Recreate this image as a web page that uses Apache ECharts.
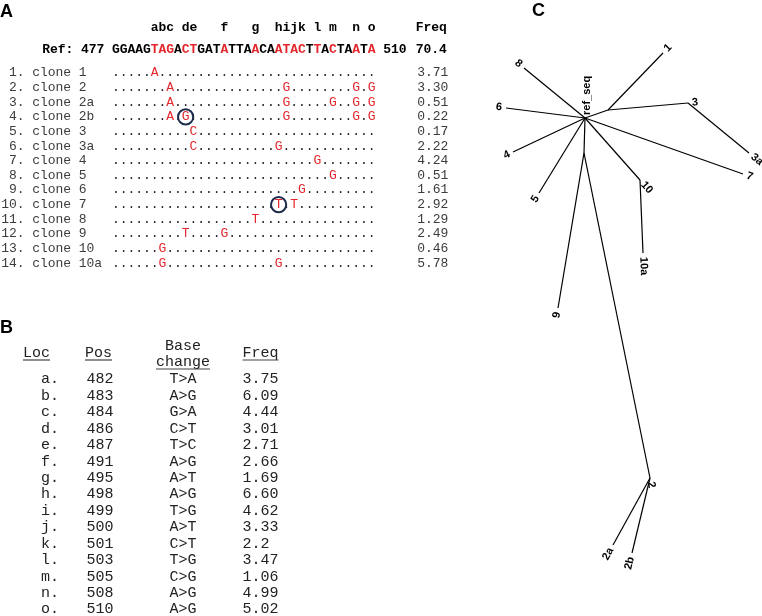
<!DOCTYPE html>
<html>
<head>
<meta charset="utf-8">
<script src="https://cdn.jsdelivr.net/npm/echarts@6/dist/echarts.min.js"></script>
<style>
  html, body { margin: 0; padding: 0; background: #fff; }
  #chart { width: 762px; height: 616px; }
</style>
</head>
<body>
<div id="chart"></div>
<script>
// panel A: reference sequence and clones
var refStart = 477
var refSeq = 'GGAAGTAGACTGATATTAACAATACTTACTAATA'
var refFreq = '70.4'
var cloneNames = ['clone 1', 'clone 2', 'clone 2a', 'clone 2b', 'clone 3', 'clone 3a', 'clone 4',
  'clone 5', 'clone 6', 'clone 7', 'clone 8', 'clone 9', 'clone 10', 'clone 10a']
var cloneFreq = ['3.71', '3.30', '0.51', '0.22', '0.17', '2.22', '4.24', '0.51', '1.61', '2.92',
  '1.29', '2.49', '0.46', '5.78']
// [position, base] per clone
var cloneMuts = [
  [[482, 'A']],
  [[484, 'A'], [499, 'G'], [508, 'G'], [510, 'G']],
  [[484, 'A'], [499, 'G'], [505, 'G'], [508, 'G'], [510, 'G']],
  [[484, 'A'], [486, 'G'], [499, 'G'], [508, 'G'], [510, 'G']],
  [[487, 'C']],
  [[487, 'C'], [498, 'G']],
  [[503, 'G']],
  [[505, 'G']],
  [[501, 'G']],
  [[498, 'T'], [500, 'T']],
  [[495, 'T']],
  [[486, 'T'], [491, 'G']],
  [[483, 'G']],
  [[483, 'G'], [498, 'G']]
]
var circled = [['clone 2b', 486], ['clone 7', 498]]

// panel B: variant table
var locNames = ['a', 'b', 'c', 'd', 'e', 'f', 'g', 'h', 'i', 'j', 'k', 'l', 'm', 'n', 'o']
var locPos = [482, 483, 484, 486, 487, 491, 495, 498, 499, 500, 501, 503, 505, 508, 510]
var baseChange = ['T>A', 'A>G', 'G>A', 'C>T', 'T>C', 'A>G', 'A>T', 'A>G', 'T>G', 'A>T', 'C>T',
  'T>G', 'C>G', 'A>G', 'A>G']
var locFreq = ['3.75', '6.09', '4.44', '3.01', '2.71', '2.66', '1.69', '6.60', '4.62', '3.33',
  '2.2', '3.47', '1.06', '4.99', '5.02']

// panel C: unrooted tree, node coordinates relative to ref_seq (y up)
var treeLabels = ['ref_seq', '8', '6', '4', '5', '', '1', '3', '3a', '7', '10', '10a', '', '9', '2', '2a', '2b']
var treeParent = [-1, 0, 0, 0, 0, 0, 5, 5, 7, 0, 0, 10, 0, 12, 12, 14, 14]
var treeX = [0, -61, -79, -72, -46, 23, 78, 103, 164, 158, 55, 58, -1, -27, 65, 28, 47]
var treeY = [0, 50, 10, -34, -75, 8, 65, 15, -35, -56, -62, -135, -35, -190, -360, -427, -435]

var MONO = '"Liberation Mono", "Courier New", monospace'
var SANS = '"Liberation Sans", Arial, sans-serif'
var RED = '#e3262c'
var HEAD_ROW = -3.07
var REF_ROW = -1.57
var FREQ_COL = 39.4
var LABEL_COL = -14.3

var chartDom = document.getElementById('chart')
var myChart = echarts.init(chartDom)

// one glyph per column so everything lines up like the alignment
function cells(api, row, startCol, str, colorAt, weight) {
  var out = []
  for (var k = 0; k < str.length; k++) {
    if (str[k] === ' ') continue
    var p = api.coord([startCol + k + 0.5, row])
    out.push({
      type: 'text',
      x: p[0],
      y: p[1],
      style: {
        text: str[k],
        fill: colorAt(k),
        fontFamily: MONO,
        fontSize: 13,
        fontWeight: weight || 'normal',
        align: 'center',
        verticalAlign: 'middle'
      }
    })
  }
  return out
}

function pad(s, n) {
  while (s.length < n) s = ' ' + s
  return s
}

var refRed = {}
locPos.forEach(function(p) { refRed[p - refStart] = true })

function renderHeader(params, api) {
  var kids = []
  locNames.forEach(function(name, k) {
    kids = kids.concat(cells(api, HEAD_ROW, locPos[k] - refStart, name, function() { return '#000' }, 'bold'))
  })
  kids = kids.concat(cells(api, HEAD_ROW, FREQ_COL - 0.2, 'Freq', function() { return '#000' }, 'bold'))
  return { type: 'group', children: kids }
}

function renderRef(params, api) {
  var kids = []
  var black = function() { return '#000' }
  kids = kids.concat(cells(api, REF_ROW, -9, 'Ref: ' + refStart, black, 'bold'))
  kids = kids.concat(cells(api, REF_ROW, 0, refSeq, function(k) { return refRed[k] ? RED : '#000' }, 'bold'))
  kids = kids.concat(cells(api, REF_ROW, refSeq.length + 1, String(refStart + refSeq.length - 1), black, 'bold'))
  kids = kids.concat(cells(api, REF_ROW, FREQ_COL - 0.2, refFreq, black, 'bold'))
  return { type: 'group', children: kids }
}

function renderClone(params, api) {
  var i = params.dataIndex
  var muts = {}
  cloneMuts[i].forEach(function(m) { muts[m[0] - refStart] = m[1] })
  var row = ''
  for (var c = 0; c < refSeq.length; c++) row += muts[c] || '.'
  var kids = []
  kids = kids.concat(cells(api, i, LABEL_COL, pad((i + 1) + '.', 3) + ' ' + cloneNames[i], function() { return '#3c3c3c' }))
  kids = kids.concat(cells(api, i, 0, row, function(k) { return muts[k] ? RED : '#222' }))
  kids = kids.concat(cells(api, i, FREQ_COL, cloneFreq[i], function() { return '#3c3c3c' }))
  circled.forEach(function(cc) {
    if (cc[0] !== cloneNames[i]) return
    var p = api.coord([cc[1] - refStart + 0.5, i])
    kids.push({
      type: 'circle',
      shape: { cx: p[0], cy: p[1], r: 7.6 },
      style: { fill: 'none', stroke: '#1d2c4c', lineWidth: 2 }
    })
  })
  return { type: 'group', children: kids }
}

function renderTable(params, api) {
  var i = params.dataIndex
  var y = api.coord([0, i])[1]
  var st = { fill: '#222', fontFamily: MONO, fontSize: 15, verticalAlign: 'middle' }
  function t(x, s, align) {
    return { type: 'text', x: x, y: y, style: Object.assign({ text: s, align: align }, st) }
  }
  return {
    type: 'group',
    children: [
      t(api.coord([41, i])[0], locNames[i] + '.', 'left'),
      t(api.coord([86.5, i])[0], String(locPos[i]), 'left'),
      t(api.coord([183, i])[0], baseChange[i], 'center'),
      t(api.coord([242.5, i])[0], locFreq[i], 'left')
    ]
  }
}

function renderTree(params, api) {
  var i = params.dataIndex
  var c = api.coord([api.value(0), api.value(1)])
  var p = api.coord([api.value(2), api.value(3)])
  var lab = treeLabels[i]
  var font = { fill: '#000', fontFamily: SANS, fontSize: 11, fontWeight: 'bold', verticalAlign: 'middle' }
  if (treeParent[i] < 0) {
    return {
      type: 'text',
      x: c[0] + 2,
      y: c[1] - 3,
      rotation: Math.PI / 2,
      style: Object.assign({ text: lab, align: 'left' }, font)
    }
  }
  var kids = [{
    type: 'line',
    shape: { x1: p[0], y1: p[1], x2: c[0], y2: c[1] },
    style: { stroke: '#000', lineWidth: 1.2 }
  }]
  if (lab) {
    var dx = c[0] - p[0]
    var dy = c[1] - p[1]
    var len = Math.sqrt(dx * dx + dy * dy)
    var ang = Math.atan2(-dy, dx)
    var right = dx >= 0
    kids.push({
      type: 'text',
      x: c[0] + dx / len * 4,
      y: c[1] + dy / len * 4,
      rotation: right ? ang : ang + Math.PI,
      style: Object.assign({ text: lab, align: right ? 'left' : 'right' }, font)
    })
  }
  return { type: 'group', children: kids }
}

function headerText(x, y, s, align, underline) {
  var els = [{
    type: 'text',
    x: x,
    y: y,
    style: { text: s, fill: '#222', fontFamily: MONO, fontSize: 15, align: align, verticalAlign: 'middle' }
  }]
  if (underline) {
    var w = s.length * 9
    var x1 = align === 'center' ? x - w / 2 : x
    els.push({
      type: 'line',
      shape: { x1: x1, y1: y + 6.5, x2: x1 + w, y2: y + 6.5 },
      style: { stroke: '#444', lineWidth: 1.2 }
    })
  }
  return els
}

var graphics = [
  { type: 'text', x: 0, y: 12, style: { text: 'A', fill: '#000', fontFamily: SANS, fontSize: 18, fontWeight: 'bold', verticalAlign: 'middle' } },
  { type: 'text', x: 0, y: 328, style: { text: 'B', fill: '#000', fontFamily: SANS, fontSize: 18, fontWeight: 'bold', verticalAlign: 'middle' } },
  { type: 'text', x: 532, y: 11, style: { text: 'C', fill: '#000', fontFamily: SANS, fontSize: 18, fontWeight: 'bold', verticalAlign: 'middle' } }
]
graphics = graphics
  .concat(headerText(23, 353.5, 'Loc', 'left', true))
  .concat(headerText(85, 353.5, 'Pos', 'left', true))
  .concat(headerText(183, 346, 'Base', 'center', false))
  .concat(headerText(183, 362.5, 'change', 'center', true))
  .concat(headerText(242.5, 353.5, 'Freq', 'left', true))

var option = {
  animation: false,
  grid: [
    { left: 3.5, top: 14.52, width: 465, height: 263.2 },
    { left: 0, top: 330.2, width: 300, height: 282.6 },
    { left: 470, top: 0, width: 292, height: 616 }
  ],
  xAxis: [
    { gridIndex: 0, type: 'value', min: -14, max: 46, show: false },
    { gridIndex: 1, type: 'value', min: 0, max: 300, show: false },
    { gridIndex: 2, type: 'value', min: -115, max: 177, show: false }
  ],
  yAxis: [
    { gridIndex: 0, type: 'value', min: -4, max: 14, inverse: true, show: false },
    { gridIndex: 1, type: 'value', min: -3, max: 14.2, inverse: true, show: false },
    { gridIndex: 2, type: 'value', min: -498, max: 118, show: false }
  ],
  graphic: graphics,
  series: [
    {
      type: 'custom', xAxisIndex: 0, yAxisIndex: 0, clip: false,
      data: [[0, HEAD_ROW]], renderItem: renderHeader
    },
    {
      type: 'custom', xAxisIndex: 0, yAxisIndex: 0, clip: false,
      data: [[0, REF_ROW]], renderItem: renderRef
    },
    {
      type: 'custom', xAxisIndex: 0, yAxisIndex: 0, clip: false,
      data: cloneNames.map(function(n, i) { return [0, i] }),
      renderItem: renderClone
    },
    {
      type: 'custom', xAxisIndex: 1, yAxisIndex: 1, clip: false,
      data: locNames.map(function(n, i) { return [0, i] }),
      renderItem: renderTable
    },
    {
      type: 'custom', xAxisIndex: 2, yAxisIndex: 2, clip: false,
      data: treeLabels.map(function(l, i) {
        var p = treeParent[i] < 0 ? i : treeParent[i]
        return [treeX[i], treeY[i], treeX[p], treeY[p]]
      }),
      renderItem: renderTree
    }
  ]
}
myChart.setOption(option)
</script>
</body>
</html>
